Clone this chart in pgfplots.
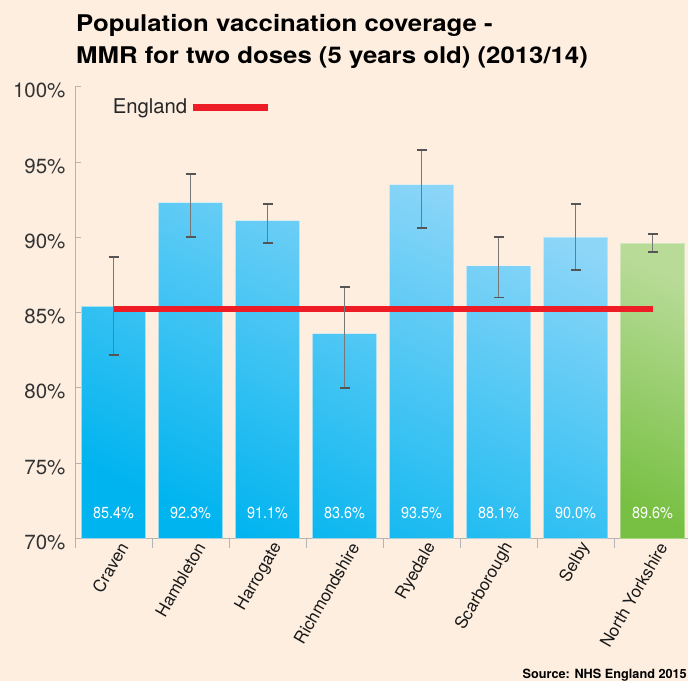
\documentclass[border=0pt]{standalone}
\usepackage{pgfplots}
\pgfplotsset{compat=1.18}
\usepackage{pgfplotstable}
\usepackage{fontspec}
\setmainfont{TeX Gyre Heros}
\newfontfamily\condfont[FakeStretch=0.9]{TeX Gyre Heros}
\newfontfamily\widefont[FakeStretch=1.12]{TeX Gyre Heros}
\definecolor{bg}{HTML}{FDEEE0}
\definecolor{cyanlight}{HTML}{8ED6F8}
\definecolor{cyandark}{HTML}{00B4EF}
\definecolor{greenlight}{HTML}{B8DB98}
\definecolor{greendark}{HTML}{78C043}
\definecolor{engred}{HTML}{EE1D25}
\definecolor{errgray}{HTML}{555555}
\definecolor{axisgray}{HTML}{B4B4B4}
\definecolor{ticktext}{HTML}{333333}

\pgfplotstableread{
x val lo hi ly lab
0 85.4 82.2 88.7 71.7 85.4\%
1 92.3 90.0 94.2 71.7 92.3\%
2 91.1 89.6 92.2 71.7 91.1\%
3 83.6 80.0 86.7 71.7 83.6\%
4 93.5 90.6 95.8 71.7 93.5\%
5 88.1 86.0 90.0 71.7 88.1\%
6 90.0 87.8 92.2 71.7 90.0\%
}\districts
\pgfplotstableread{
x val lo hi ly lab
7 89.6 89.0 90.2 71.7 89.6\%
}\county

\begin{document}
\begin{tikzpicture}
\path[use as bounding box, fill=bg] (-75pt,-142.7pt) rectangle (613pt,538.3pt);
\begin{axis}[
  at={(0pt,0pt)}, anchor=south west,
  width=613pt, height=451.6pt, scale only axis,
  xmin=-0.5, xmax=7.46, ymin=70, ymax=100,
  axis lines=left, axis line style={-, draw=axisgray, line width=0.8pt},
  ytick={70,75,...,100},
  yticklabel={\pgfmathparse{int(\tick)}\pgfmathresult\%},
  yticklabel style={anchor=east, xshift=-6pt, yshift=-4pt, text=ticktext,
     font=\fontsize{20.5}{23}\selectfont},
  xtick={0,...,7},
  xticklabels={Craven,Hambleton,Harrogate,Richmondshire,Ryedale,Scarborough,Selby,North Yorkshire},
  xticklabel style={xshift=12pt, yshift=-3pt, rotate=60, anchor=east, text=black!90,
     font=\fontsize{17}{19}\selectfont},
  major x tick style={draw=none},
  minor xtick={-0.5,0.5,...,6.5},
  minor tick length=10pt,
  minor x tick style={draw=axisgray, line width=0.8pt, yshift=-10pt},
  major tick length=6pt,
  tick align=inside,
  ytick style={draw=axisgray, line width=0.8pt},
  ytick pos=left, xtick pos=bottom,
  legend plot pos=right,
  legend style={at={(0.058,0.9544)}, anchor=west, draw=none, fill=none,
     font=\fontsize{20.3}{23}\selectfont, text=black!85, inner sep=0pt,
     /tikz/every even column/.style={column sep=6pt}},
  legend image code/.code={\draw[engred, line width=7pt] (0pt,0pt) -- (75pt,0pt);},
  clip=false,
]
\addplot[ybar, bar width=64.4pt, bar shift=0pt,
  top color=cyanlight, bottom color=cyandark, shading angle=-25,
  draw=white, draw opacity=0.35, line width=0.8pt, forget plot]
  table[x=x, y=val] {\districts};
\addplot[ybar, bar width=64.4pt, bar shift=0pt,
  top color=greenlight, bottom color=greendark, shading angle=-25,
  draw=white, draw opacity=0.35, line width=0.8pt, forget plot]
  table[x=x, y=val] {\county};
\addplot[engred, line width=6pt] coordinates {(0,85.2) (7,85.2)};
\addlegendentry{England}
\addplot[draw=none, mark=none, forget plot,
  error bars/.cd, y dir=both, y explicit,
  error bar style={draw=errgray!80, line width=1.7pt},
  error mark options={rotate=90, mark size=5pt, line width=1.8pt, draw=errgray}]
  table[x=x, y=val, y error plus expr=\thisrow{hi}-\thisrow{val},
        y error minus expr=\thisrow{val}-\thisrow{lo}] {\districts};
\addplot[draw=none, mark=none, forget plot,
  error bars/.cd, y dir=both, y explicit,
  error bar style={draw=errgray!80, line width=1.7pt},
  error mark options={rotate=90, mark size=5pt, line width=1.8pt, draw=errgray}]
  table[x=x, y=val, y error plus expr=\thisrow{hi}-\thisrow{val},
        y error minus expr=\thisrow{val}-\thisrow{lo}] {\county};
\addplot[draw=none, mark=none, forget plot, nodes near coords,
  point meta=explicit symbolic,
  nodes near coords style={anchor=center, text=white,
     font=\condfont\fontsize{16}{18}\selectfont}]
  table[x=x, y=ly, meta=lab] {\districts};
\addplot[draw=none, mark=none, forget plot, nodes near coords,
  point meta=explicit symbolic,
  nodes near coords style={anchor=center, text=white,
     font=\condfont\fontsize{16}{18}\selectfont}]
  table[x=x, y=ly, meta=lab] {\county};
\end{axis}
\node[anchor=north west, align=left, inner sep=0pt,
  font=\widefont\bfseries\fontsize{23}{31.7}\selectfont]
  at (1pt,524pt) {Population vaccination coverage -\\MMR for two doses (5 years old) (2013/14)};
\node[anchor=base east, inner sep=0pt, font=\bfseries\fontsize{12.7}{14}\selectfont]
  at (612pt,-139.7pt) {Source: NHS England 2015};
\end{tikzpicture}
\end{document}
